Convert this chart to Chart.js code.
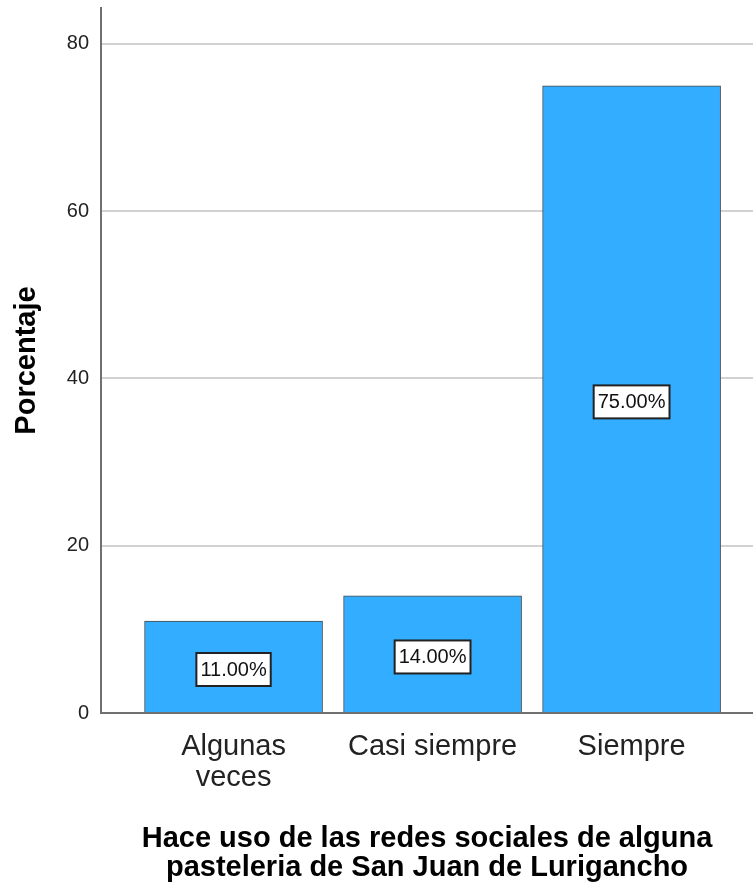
<!DOCTYPE html>
<html>
<head>
<meta charset="utf-8">
<script src="https://cdn.jsdelivr.net/npm/chart.js@4"></script>
<style>
  body { margin: 0; background: #fff; }
  canvas { display: block; }
</style>
</head>
<body>
<canvas id="usoChart" width="753" height="892"></canvas>
<script>
var categorias = [["Algunas", "veces"], "Casi siempre", "Siempre"];
var posiciones = [1, 2, 3];
var porcentajes = [11, 14, 75];
var yTicks = [0, 20, 40, 60, 80];

var fuente = "'Liberation Sans', Arial, sans-serif";

// white box with the percentage, centered on each bar
var etiquetas = {
	id: "etiquetas",
	afterDatasetsDraw: function(chart) {
		var ctx = chart.ctx;
		chart.getDatasetMeta(0).data.forEach(function(bar, i) {
			var texto = porcentajes[i].toFixed(2) + "%";
			ctx.save();
			ctx.font = "20px " + fuente;
			var w = ctx.measureText(texto).width + 8;
			var h = 33;
			var cx = bar.x;
			var cy = (bar.y + bar.base) / 2 + 3;
			ctx.fillStyle = "#fff";
			ctx.fillRect(cx - w / 2, cy - h / 2, w, h);
			ctx.lineWidth = 2;
			ctx.strokeStyle = "#222";
			ctx.strokeRect(cx - w / 2, cy - h / 2, w, h);
			ctx.fillStyle = "#111";
			ctx.textAlign = "center";
			ctx.textBaseline = "middle";
			ctx.fillText(texto, cx, cy + 1);
			ctx.restore();
		});
	}
};

new Chart(document.getElementById("usoChart").getContext("2d"), {
	type: "bar",
	data: {
		datasets: [{
			data: posiciones.map(function(p, i) { return {x: p, y: porcentajes[i]}; }),
			backgroundColor: "#33adff",
			borderColor: "#4a4a4a",
			borderWidth: 1,
			barThickness: 178
		}]
	},
	options: {
		responsive: false,
		animation: false,
		events: [],
		layout: { padding: { top: 8, left: 0, right: 0, bottom: 0 } },
		plugins: { legend: { display: false }, tooltip: { enabled: false } },
		scales: {
			x: {
				type: "linear",
				offset: false,
				min: 0.334,
				max: 3.61,
				afterBuildTicks: function(scale) {
					scale.ticks = posiciones.map(function(v) { return {value: v}; });
				},
				afterFit: function(scale) {
					scale.height = 179;
					scale.paddingLeft = 0;
					scale.paddingRight = 0;
				},
				grid: { display: false, drawTicks: false, offset: false },
				border: { color: "#707070", width: 2 },
				ticks: {
					autoSkip: false,
					maxRotation: 0,
					padding: 18,
					color: "#222",
					font: { family: fuente, size: 29, lineHeight: 1.08 },
					callback: function(v) { return categorias[posiciones.indexOf(v)]; }
				},
				title: {
					display: true,
					text: ["Hace uso de las redes sociales de alguna", "pasteleria de San Juan de Lurigancho"],
					color: "#000",
					font: { family: fuente, size: 29, weight: "bold", lineHeight: 1.0 },
					padding: { top: 0, bottom: 10 }
				}
			},
			y: {
				min: 0,
				max: 84.3,
				afterBuildTicks: function(scale) {
					scale.ticks = yTicks.map(function(v) { return {value: v}; });
				},
				afterFit: function(scale) {
					scale.width = 101;
					scale.paddingTop = 0;
					scale.paddingBottom = 0;
				},
				grid: { color: "#d2d2d2", lineWidth: 2, drawTicks: false },
				border: { color: "#707070", width: 2 },
				ticks: {
					padding: 12,
					color: "#222",
					font: { family: fuente, size: 20 }
				},
				title: {
					display: true,
					text: "Porcentaje",
					color: "#000",
					font: { family: fuente, size: 29, weight: "bold", lineHeight: 1.0 },
					padding: { top: 12, bottom: 0 }
				}
			}
		}
	},
	plugins: [etiquetas]
});
</script>
</body>
</html>
